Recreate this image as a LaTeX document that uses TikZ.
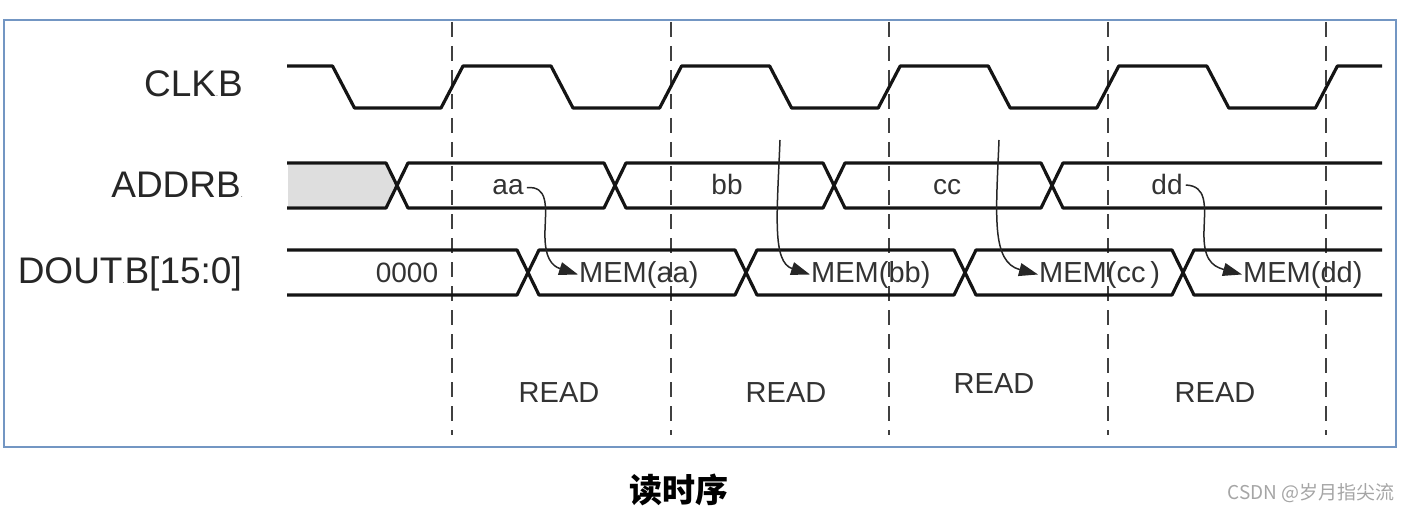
\documentclass[tikz,border=0pt]{standalone}
\usepackage{fontspec}
\setmainfont{Liberation Sans}
\newfontfamily\cjk{Noto Sans CJK SC}
\usetikzlibrary{arrows.meta, positioning}
\definecolor{frameblue}{RGB}{115,150,195}
\definecolor{waveblk}{RGB}{20,20,20}
\definecolor{idlegray}{RGB}{222,222,222}
\definecolor{markgray}{RGB}{165,165,165}
\newcommand{\tinydot}{{\fontsize{7}{7}\selectfont.}}

\begin{document}
\begin{tikzpicture}[x=1pt, y=-1pt,
      sig/.style={anchor=base east, inner sep=0pt, text=black!85, font=\fontsize{37}{40}\selectfont},
      val/.style={anchor=base, inner sep=0pt, text=black!80, font=\fontsize{28}{31}\selectfont},
      mem/.style={val, anchor=base west, font=\fontsize{29}{32}\selectfont},
      wave/.style={line width=3.2pt, waveblk, line join=round},
      grid/.style={line width=2pt, black!75, dash pattern=on 15pt off 9pt},
      arr/.style={-{Triangle[length=19pt, width=13pt]}, line width=1.5pt, black!85}]
    \useasboundingbox (0,0) rectangle (1410,513);
    \draw[frameblue, line width=2pt] (4,20) rectangle (1396,447);
    % clock edges
    \foreach \x in {452,670.6,889.2,1107.8,1326.4} \draw[grid] (\x,22) -- (\x,435);
    % signal names
    \node[sig] (clk) at (243,97) {CLK\tinydot B};
    \node[sig] (addr) at (243,197) {ADDRB\tinydot};
    \node[sig] (dout) at (242,283) {DOUT\tinydot B[15:0]};
    % CLK.B
    \draw[wave] (287,66) -- (332.5,66) -- (354.5,108)
      \foreach \k in {0,...,3} { -- ({441+\k*218.6},108) -- ({463+\k*218.6},66)
      -- ({551+\k*218.6},66) -- ({573+\k*218.6},108) }
      -- (1315.4,108) -- (1337.4,66) -- (1382,66);
    % ADDR.B
    \fill[idlegray] (288,165) -- (385,165) -- (395,185.5) -- (385,206) -- (288,206) -- cycle;
    \draw[wave] (287,163) -- (386,163) -- (408,208) -- (604,208) -- (626,163) -- (823,163)
      -- (845,208) -- (1041,208) -- (1063,163) -- (1382,163);
    \draw[wave] (287,208) -- (386,208) -- (408,163) -- (604,163) -- (626,208) -- (823,208)
      -- (845,163) -- (1041,163) -- (1063,208) -- (1382,208);
    \node[val] (aa) at (508,195) {aa};
    \node[val] (bb) at (727,195) {bb};
    \node[val] (cc) at (947,195) {cc};
    \node[val] (dd) at (1167,195) {dd};
    % DOUT.B
    \draw[wave] (287,250) -- (517,250) -- (539,295) -- (735,295) -- (757,250) -- (954,250)
      -- (976,295) -- (1172,295) -- (1194,250) -- (1382,250);
    \draw[wave] (287,295) -- (517,295) -- (539,250) -- (735,250) -- (757,295) -- (954,295)
      -- (976,250) -- (1172,250) -- (1194,295) -- (1382,295);
    \node[val] (d0) at (407,282) {0000};
    \node[mem] (mema) at (579,282) {MEM(aa)};
    \node[mem] (memb) at (811,282) {MEM(bb)};
    \node[mem] (memc) at (1039,282) {MEM(cc\,)};
    \node[mem] (memd) at (1243,282) {MEM(dd)};
    % read latency
    \coordinate (btop) at (780,140);
    \coordinate (ctop) at (999,140);
    \draw[arr] ([xshift=3pt]aa.east) .. controls (548,186) and (546,205) .. (545,230)
      .. controls (544,258) and (552,266) .. ([xshift=-1pt]mema.west);
    \draw[arr] (btop) .. controls (777,215) and (772,262) .. ([xshift=-1pt]memb.west);
    \draw[arr] (ctop) .. controls (996,215) and (991,262) .. ([xshift=-1pt]memc.west);
    \draw[arr] ([xshift=3pt]dd.east) .. controls (1207,186) and (1205,205) .. (1204,230)
      .. controls (1203,258) and (1211,266) .. ([xshift=-1pt]memd.west);
    % cycles
    \node[val, font=\fontsize{29}{32}\selectfont] (r1) at (559,402) {READ};
    \node[val, font=\fontsize{29}{32}\selectfont] (r2) at (786,402) {READ};
    \node[val, font=\fontsize{29}{32}\selectfont] (r3) at (994,393) {READ};
    \node[val, font=\fontsize{29}{32}\selectfont] (r4) at (1215,402) {READ};
    \node[font=\cjk\bfseries\fontsize{33}{36}\selectfont, inner sep=0pt] (title) at (679,490) {读时序};
    \node[anchor=east, inner sep=0pt, text=markgray, font=\cjk\fontsize{19}{21}\selectfont] (mark) at (1395,493) {CSDN @岁月指尖流};
  \end{tikzpicture}
\end{document}
